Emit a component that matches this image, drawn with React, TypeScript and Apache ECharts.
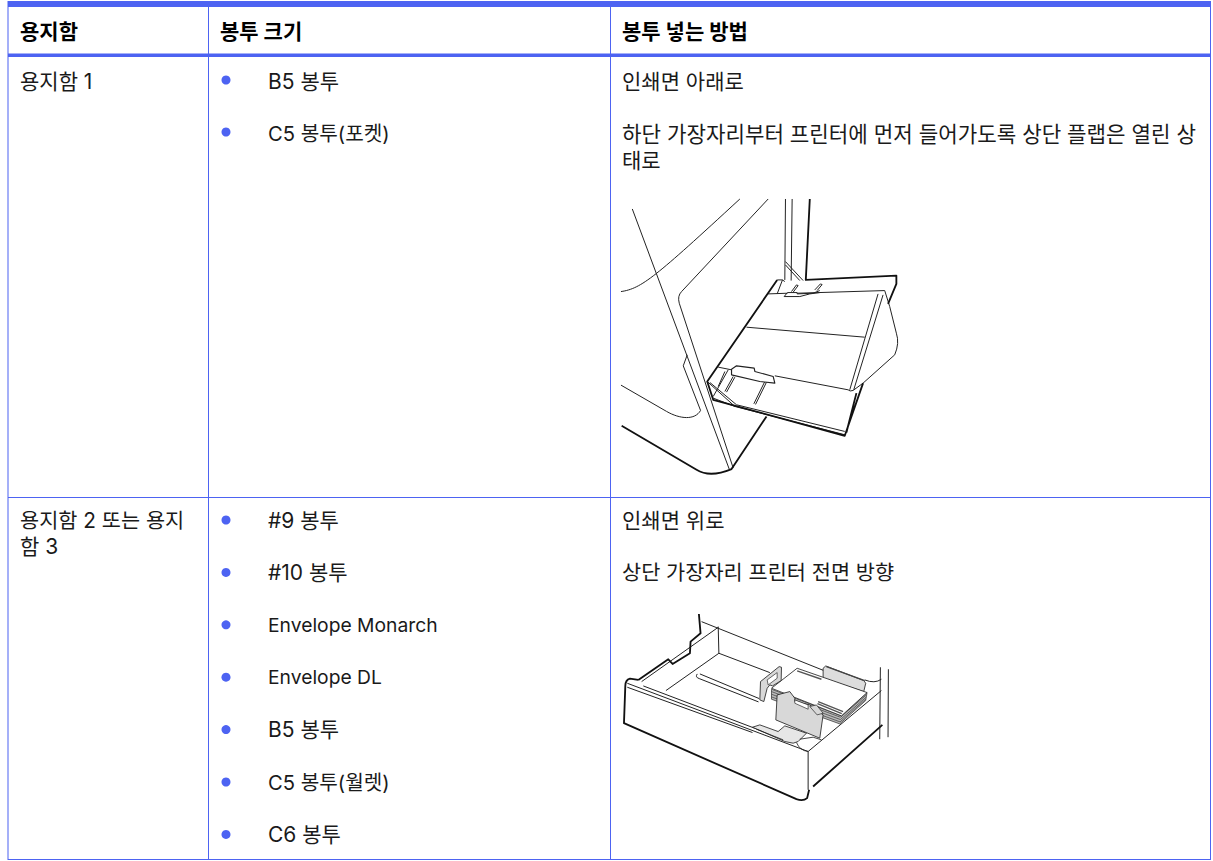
import React, { useEffect, useRef } from "react";
import * as echarts from "echarts";

const headers = ["용지함", "봉투 크기", "봉투 넣는 방법"];
const tray1Label = ["용지함 1"];
const tray1Sizes = ["B5 봉투", "C5 봉투(포켓)"];
const tray1Method = ["인쇄면 아래로", "하단 가장자리부터 프린터에 먼저 들어가도록 상단 플랩은 열린 상", "태로"];
const tray2Label = ["용지함 2 또는 용지", "함 3"];
const tray2Sizes = ["#9 봉투", "#10 봉투", "Envelope Monarch", "Envelope DL", "B5 봉투", "C5 봉투(월렛)", "C6 봉투"];
const tray2Method = ["인쇄면 위로", "상단 가장자리 프린터 전면 방향"];

const BLUE = "#4d63f2";
const INK = "#1a1a1a";
const FONT = 'Inter, "Noto Sans CJK KR", sans-serif';

const thin1 = [
  "M97 57L388 838",
  "M63 305C125 296 165 262 420 27",
  "M505 27L245 305Q232 318 238 340L400 835",
  "M63 586L200 665C240 688 285 692 302 662",
  "M262 495L250 528L302 662",
  "M557 27L555 270M577 27L574 272",
  "M557 215L610 272M557 225L600 272",
  "M505 312L563 310M592 310L855 302",
  "M855 302L870 350L890 430Q900 460 885 495L790 580L760 602Q750 606 745 600L525 558",
  "M355 532L395 540",
  "M835 312L750 600M850 315L762 600",
  "M440 412L795 442",
  "M340 625L405 650L735 735M410 645L735 725",
  "M532 270L548 270L532 312M548 270L555 275",
  "M322 575L405 650M330 578L410 645",
  "M385 540L340 620M375 545L355 590",
  "M400 560L375 605M405 562L380 607",
  "M495 575L462 642M500 577L467 644",
  "M575 305L590 285L595 287L580 307",
  "M645 300L662 282L667 284L652 302",
  "M563 308L592 308L592 312L640 310L660 302M553 320L600 320L630 312L660 308M553 320L563 308",
];
const guide1 = ["M395 538L410 528L463 535L465 545L520 560L525 580L480 575L395 555Z"];
const bold1 = [
  "M65 708L290 840Q330 865 395 838L500 680",
  "M630 27L618 270L890 257L890 282L865 342",
  "M532 270L322 575L340 630L735 738L790 580",
  "M740 728L770 610",
];
const thin2 = [
  "M305 65L680 215M795 240Q825 252 845 238",
  "M355 80L357 160L510 218",
  "M357 160L198 272",
  "M125 245L355 82",
  "M82 250L625 455M130 258L530 410M82 262L458 398",
  "M300 222L478 296M292 222Q285 232 298 236L476 306",
  "M625 455L625 570",
  "M625 455L845 272",
  "M842 202L840 418M866 208L865 412",
];
const backPaddle2 = ["M670 205L678 198L792 242L798 250L792 275L670 235Z"];
const backPaddleInner2 = ["M680 200L795 242"];
const stackSide2 = ["M515 268L515 298L720 372L798 302L802 278L725 348Z"];
const stackHatch2 = ["M515 275L722 352L800 285M515 283L722 359L799 292M515 291L721 366L798 298"];
const stackTop2 = ["M592 205L802 278L725 348L515 265Z"];
const stripes2 = ["M592 213L665 238", "M655 305L730 335M653 311L726 341"];
const leftPaddle2 = ["M482 245L538 200L545 202L544 242L518 258L510 255L502 265L492 305L480 300Z"];
const leftWindow2 = ["M502 240L532 218L532 235L505 255Z"];
const frontPaddle2 = ["M532 285L570 275L585 295L585 305L630 315L650 330L670 345L660 415L528 360Z"];
const notch2 = ["M585 300L625 315L625 328L585 310Z"];
const bump2 = ["M630 320L650 315L670 340L652 345Z"];
const tab2 = ["M458 382L480 375L535 395L555 378L620 400L595 425L580 430L555 425Z"];
const tabLine2 = ["M470 388L550 420M600 418L640 412L665 420M625 455Q600 452 590 428"];
const bold2 = [
  "M297 42L302 100L272 125L270 160L218 192L205 178L115 240",
  "M115 240L90 236Q76 240 76 258L72 370L590 598Q610 605 622 595L628 570",
  "M640 560L848 375",
];

function App() {
  const ref = useRef<HTMLDivElement>(null);
  useEffect(() => {
    document.body.style.margin = "0";
    const chart = echarts.init(ref.current!, null, { renderer: "svg" });
    const paths: Record<string, string[]> = {
      thin1, guide1, bold1, thin2, backPaddle2, backPaddleInner2, stackSide2, stackHatch2, stackTop2,
      stripes2, leftPaddle2, leftWindow2, frontPaddle2, notch2, bump2, tab2, tabLine2, bold2,
    };
    Object.entries(paths).forEach(([k, v]) => {
      echarts.graphic.registerShape(k, echarts.graphic.extendPath(v.join(""), {}) as any);
    });
    const g: any[] = [];
    const T = (x: number, y: number, text: string, bold = false, size = 21) =>
      g.push({
        type: "text", x, y,
        style: { text, fill: bold ? "#000" : INK, font: `${bold ? 700 : 400} ${size}px ${FONT}`, textVerticalAlign: "middle" },
      });
    const L = (x1: number, y1: number, x2: number, y2: number, w: number) =>
      g.push({ type: "rect", shape: { x: x1, y: y1, width: Math.max(x2 - x1, w), height: Math.max(y2 - y1, w) }, style: { fill: BLUE } });
    const art = (type: string, x: number, y: number, w: number, stroke = "#222", fill = "none") =>
      g.push({ type, x, y, scaleX: 1 / 3, scaleY: 1 / 3, style: { fill, stroke, lineWidth: w, lineJoin: "round" } });

    const cols = [20, 220, 622];
    const colLines = [7.5, 208, 610, 1210];
    L(8, 1, 1211, 7, 6);
    L(8, 53.5, 1211, 57, 3.5);
    L(8, 497, 1211, 498, 1);
    L(8, 859, 1211, 860, 1);
    colLines.forEach((x) => L(x, 1, x + 1, 860, 1));

    headers.forEach((h, i) => T(cols[i], 31, h, true));
    tray1Label.forEach((t) => T(cols[0], 81, t));
    tray1Sizes.forEach((t, i) => {
      g.push({ type: "circle", shape: { cx: 226, cy: 80 + i * 52, r: 4.5 }, style: { fill: BLUE } });
      T(268, 81 + i * 52, t, false, i === 1 ? 20.2 : 21);
    });
    T(cols[2], 81, tray1Method[0]);
    T(cols[2], 134, tray1Method[1], false, 21.2);
    T(cols[2], 160, tray1Method[2]);
    tray2Label.forEach((t, i) => T(cols[0], 520 + i * 26, t, false, i === 0 ? 20.8 : 21));
    tray2Sizes.forEach((t, i) => {
      g.push({ type: "circle", shape: { cx: 226, cy: 520 + i * 52.4, r: 4.5 }, style: { fill: BLUE } });
      T(268, 520 + i * 52.4, t, false, t.startsWith("Env") ? 19.3 : t.startsWith("C5") ? 20.2 : 21);
    });
    T(cols[2], 520, tray2Method[0]);
    T(cols[2], 572, tray2Method[1], false, 20.8);

    art("thin1", 600, 190, 3);
    art("guide1", 600, 190, 3.5, "#222", "#fff");
    art("bold1", 600, 190, 5.5, "#111");

    art("thin2", 600, 600, 3);
    art("backPaddle2", 600, 600, 2.5, "#222", "#ddd");
    art("backPaddleInner2", 600, 600, 4, "#444");
    art("stackSide2", 600, 600, 2, "#222", "#bbb");
    art("stackHatch2", 600, 600, 2, "#333");
    art("stackTop2", 600, 600, 2.5, "#222", "#fff");
    art("stripes2", 600, 600, 4, "#555");
    art("leftPaddle2", 600, 600, 2.5, "#222", "#d8d8d8");
    art("leftWindow2", 600, 600, 2, "#222", "#fff");
    art("tab2", 600, 600, 2.5, "#222", "#e6e6e6");
    art("tabLine2", 600, 600, 2.5);
    art("frontPaddle2", 600, 600, 2.5, "#222", "#d8d8d8");
    art("notch2", 600, 600, 2, "#222", "#fff");
    art("bump2", 600, 600, 2, "#222", "#d8d8d8");
    art("bold2", 600, 600, 5.5, "#111");

    chart.setOption({ animation: false, backgroundColor: "#fff", graphic: { elements: g } });
    return () => chart.dispose();
  }, []);
  return <div ref={ref} style={{ width: 1213, height: 861 }} />;
}
export default App;
